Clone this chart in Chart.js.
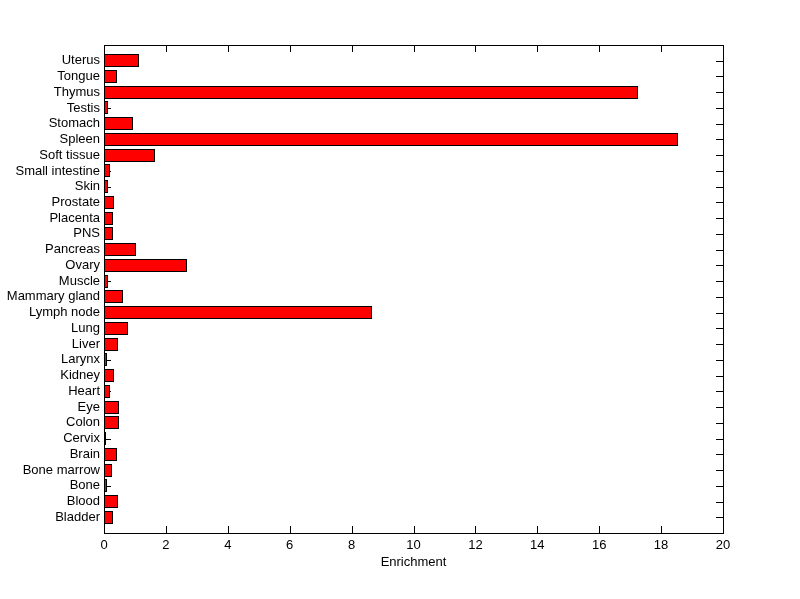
<!DOCTYPE html>
<html>
<head>
<meta charset="utf-8">
<script src="https://cdn.jsdelivr.net/npm/chart.js@4/dist/chart.umd.min.js"></script>
<style>
html,body{margin:0;padding:0;background:#fff;}
#wrap{width:800px;height:599px;}
</style>
</head>
<body>
<div id="wrap"><canvas id="c" width="800" height="599"></canvas></div>
<script>
const tissues = ["Uterus","Tongue","Thymus","Testis","Stomach","Spleen","Soft tissue","Small intestine","Skin","Prostate","Placenta","PNS","Pancreas","Ovary","Muscle","Mammary gland","Lymph node","Lung","Liver","Larynx","Kidney","Heart","Eye","Colon","Cervix","Brain","Bone marrow","Bone","Blood","Bladder"];
const enrichment = [1.14,0.43,17.25,0.14,0.93,18.55,1.66,0.20,0.14,0.31,0.28,0.28,1.02,2.67,0.14,0.60,8.66,0.77,0.46,0.11,0.31,0.20,0.50,0.50,0.05,0.41,0.25,0.11,0.44,0.28];
const xTicks = [0,2,4,6,8,10,12,14,16,18,20];

const labels = [""].concat(tissues, [""]);
const values = [null].concat(enrichment, [null]);
const FONT = 'Liberation Sans, Arial, sans-serif';
const TICK = 7;

const boxPlugin = {
  id: 'boxTicks',
  beforeDatasetsDraw(chart) {
    // snap bars to whole pixels for crisp outlines
    chart.getDatasetMeta(0).data.forEach(el => {
      if (el.skip) return;
      el.x = Math.round(el.x);
      el.base = Math.round(el.base);
      el.height = 13;
      el.y = Math.round(el.y - 6.5) + 6.5;
    });
    const ctx = chart.ctx, a = chart.chartArea;
    const ys = chart.scales.y;
    ctx.save();
    ctx.strokeStyle = '#000';
    ctx.lineWidth = 1;
    ctx.beginPath();
    for (let i = 1; i <= tissues.length; i++) {
      const y = Math.round(ys.getPixelForValue(i)) + 0.5;
      ctx.moveTo(a.left, y); ctx.lineTo(a.left + TICK, y);
      ctx.moveTo(a.right, y); ctx.lineTo(a.right - TICK, y);
    }
    ctx.stroke();
    ctx.restore();
  },
  afterDatasetsDraw(chart) {
    const ctx = chart.ctx, a = chart.chartArea;
    const xs = chart.scales.x;
    ctx.save();
    ctx.strokeStyle = '#000';
    ctx.lineWidth = 1;
    ctx.beginPath();
    xTicks.forEach(v => {
      const x = Math.round(xs.getPixelForValue(v)) + 0.5;
      ctx.moveTo(x, a.top); ctx.lineTo(x, a.top + TICK);
      ctx.moveTo(x, a.bottom); ctx.lineTo(x, a.bottom - TICK);
    });
    ctx.stroke();
    ctx.strokeRect(Math.round(a.left) + 0.5, Math.round(a.top) + 0.5, Math.round(a.right - a.left), Math.round(a.bottom - a.top));
    ctx.restore();
  }
};

new Chart(document.getElementById('c'), {
  type: 'bar',
  data: {
    labels: labels,
    datasets: [{
      data: values,
      backgroundColor: '#ff0000',
      borderColor: '#000000',
      borderWidth: 1,
      borderSkipped: false,
      barPercentage: 0.83,
      categoryPercentage: 1.0
    }]
  },
  options: {
    indexAxis: 'y',
    responsive: false,
    animation: false,
    devicePixelRatio: 1,
    layout: { padding: { left: 0, top: 45, right: 77, bottom: 0 } },
    plugins: { legend: { display: false }, tooltip: { enabled: false } },
    scales: {
      x: {
        type: 'linear',
        min: 0, max: 20,
        afterFit(s) { s.height = 66; },
        afterBuildTicks(s) { s.ticks = xTicks.map(v => ({ value: v })); },
        grid: { display: false, drawTicks: false },
        border: { display: false },
        ticks: { color: '#000', font: { family: FONT, size: 13 }, padding: 5, maxRotation: 0 },
        title: { display: true, text: 'Enrichment', color: '#000', font: { family: FONT, size: 13 }, padding: { top: 0, bottom: 29 } }
      },
      y: {
        type: 'category',
        offset: false,
        afterFit(s) { s.width = 104; },
        grid: { display: false, drawTicks: false },
        border: { display: false },
        ticks: { color: '#000', autoSkip: false, font: { family: FONT, size: 13 }, padding: 4 }
      }
    }
  },
  plugins: [boxPlugin]
});
</script>
</body>
</html>
